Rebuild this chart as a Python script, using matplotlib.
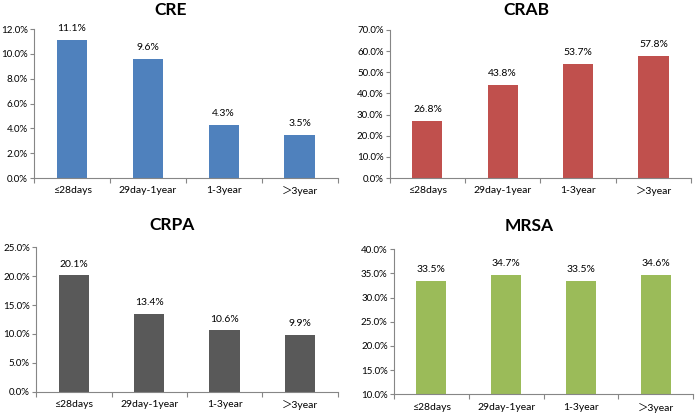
import numpy as np
import matplotlib.pyplot as plt
from matplotlib.ticker import FuncFormatter, MultipleLocator

plt.rcParams['font.family'] = ['Lato', 'Noto Sans CJK SC', 'DejaVu Sans']

# Data
groups = ['≤28days', '29day-1year', '1-3year', '＞3year']
cre = [11.1, 9.6, 4.3, 3.5]
crab = [26.8, 43.8, 53.7, 57.8]
crpa = [20.1, 13.4, 10.6, 9.9]
mrsa = [33.5, 34.7, 33.5, 34.6]

panels = [
    # title, values, color, (ymin, ymax, step), axes rect, title pos
    ('CRE', cre, '#4F81BD', (0, 12, 2), [0.049, 0.572, 0.436, 0.358], (0.245, 0.975)),
    ('CRAB', crab, '#C0504D', (0, 70, 10), [0.560, 0.572, 0.433, 0.356], (0.756, 0.975)),
    ('CRPA', crpa, '#595959', (0, 25, 5), [0.052, 0.058, 0.433, 0.348], (0.247, 0.458)),
    ('MRSA', mrsa, '#9BBB59', (10, 40, 5), [0.566, 0.052, 0.430, 0.349], (0.761, 0.456)),
]

fig = plt.figure(figsize=(6.96, 4.16), dpi=100)
axis_color = '#868686'
x = np.arange(len(groups))

for title, vals, color, (lo, hi, step), rect, tpos in panels:
    ax = fig.add_axes(rect)
    ax.bar(x, vals, width=0.4, color=color)
    ax.set_ylim(lo, hi)
    ax.set_xlim(-0.5, len(groups) - 0.5)
    ax.yaxis.set_major_locator(MultipleLocator(step))
    ax.yaxis.set_major_formatter(FuncFormatter(lambda v, p: f'{v:.1f}%'))

    # category boundaries get the tick marks, labels sit at the centres
    ax.set_xticks(np.arange(-0.5, len(groups), 1.0))
    ax.set_xticklabels([])
    ax.set_xticks(x, minor=True)
    ax.set_xticklabels(groups, minor=True)
    ax.tick_params(axis='x', which='minor', length=0, pad=6, labelsize=7.5)
    ax.tick_params(axis='x', which='major', length=3.5, color=axis_color)
    ax.tick_params(axis='y', length=3, color=axis_color, labelsize=7, pad=1.5)

    for s in ['top', 'right']:
        ax.spines[s].set_visible(False)
    for s in ['left', 'bottom']:
        ax.spines[s].set_color(axis_color)
        ax.spines[s].set_linewidth(0.8)

    for xi, v in zip(x, vals):
        ax.annotate(f'{v:.1f}%', (xi, v), xytext=(0, 5), textcoords='offset points',
                    ha='center', va='bottom', fontsize=7.5)

    fig.text(tpos[0], tpos[1], title, ha='center', va='center',
             fontsize=12.5, fontweight='bold')

fig.savefig('out.png', dpi=100)
